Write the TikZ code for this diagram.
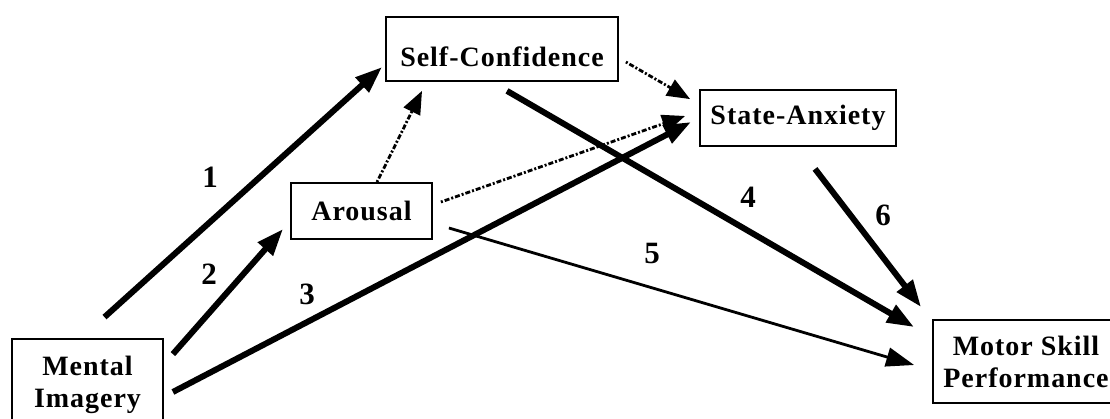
\documentclass[tikz,border=0pt]{standalone}
\usepackage{fontspec}
\setmainfont{Liberation Serif}
\newfontfamily\boxfont[LetterSpace=3.5]{Liberation Serif}
\usetikzlibrary{arrows.meta,calc}

\begin{document}
\begin{tikzpicture}[x=1pt, y=-1pt,
  font=\boxfont\bfseries\fontsize{28}{32}\selectfont,
  box/.style={draw, line width=1.8pt, inner sep=0pt, align=center},
  strong/.style={line width=6pt, -{Triangle[length=27pt,width=19pt]}},
  weak/.style={line width=2.8pt, -{Triangle[length=28pt,width=19pt]}},
  hint/.style={line width=2.8pt, dash pattern=on 2pt off 2pt on 5pt off 2pt,
    -{Triangle[length=23pt,width=18pt]}},
  num/.style={inner sep=0pt, font=\bfseries\fontsize{31}{32}\selectfont}]
  \useasboundingbox (0,0) rectangle (1110,419);
  % boxes
  \node[box, minimum width=232, minimum height=64] (sc) at (502,49)
    {\raisebox{-8pt}[\height][\depth]{Self-Confidence}};
  \node[box, minimum width=196, minimum height=56] (sa) at (798,118) {State-Anxiety};
  \node[box, minimum width=141, minimum height=56] (ar) at (361.5,211) {Arousal};
  \node[box, minimum width=151, minimum height=91] (mi) at (87.5,384.5) {Mental\\Imagery};
  \node[box, minimum width=186, minimum height=83] (ms) at (1026,361.5) {Motor Skill\\Performance};
  % paths 1 to 6
  \draw[strong] ($(mi.north)+(17,-21)$) -- ($(sc.west)+(-3,18)$);
  \draw[strong] ($(mi.north east)+(9,16)$) -- ($(ar.south west)+(-7,-11)$);
  \draw[strong] ($(mi.east)+(9,7.5)$) -- ($(sa.west)+(-8,4)$);
  \draw[strong] ($(sc.south)+(5,9)$) -- ($(ms.north west)+(-18,8)$);
  \draw[weak] ($(ar.east)+(16,17)$) -- ($(ms.west)+(-18,3.5)$);
  \draw[strong] ($(sa.south)+(17,22)$) -- ($(ms.north west)+(-11,-12)$);
  % dotted links
  \draw[hint] ($(ar.north)+(15.5,0)$) -- ($(sc.south)+(-80,9)$);
  \draw[hint] ($(sc.east)+(7,13)$) -- ($(sa.north west)+(-9,10)$);
  \draw[hint] ($(ar.east)+(8,-9)$) -- ($(sa.west)+(-14,-2)$);
  % numbers
  \node[num] (n1) at (210,177) {1};
  \node[num] (n2) at (209,274) {2};
  \node[num] (n3) at (307,294) {3};
  \node[num] (n4) at (748,197) {4};
  \node[num] (n5) at (652,254) {5};
  \node[num] (n6) at (883,215) {6};
\end{tikzpicture}
\end{document}
